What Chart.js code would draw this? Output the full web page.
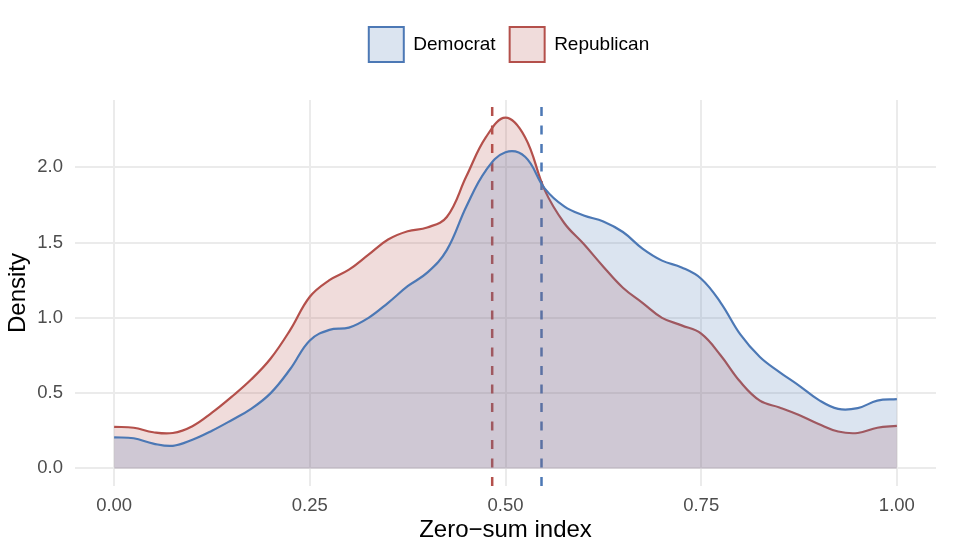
<!DOCTYPE html>
<html>
<head>
<meta charset="utf-8">
<script src="https://cdn.jsdelivr.net/npm/chart.js@4.4.1/dist/chart.umd.min.js"></script>
<style>
  html, body { margin: 0; padding: 0; background: #fff; }
  #wrap { width: 956px; height: 545px; }
</style>
</head>
<body>
<div id="wrap"><canvas id="chart" width="956" height="545"></canvas></div>
<script>
// x grid of the density estimate
const xs = [0, 0.025, 0.05, 0.075, 0.1, 0.125, 0.15, 0.175, 0.2, 0.225,
            0.25, 0.275, 0.3, 0.325, 0.35, 0.375, 0.4, 0.425, 0.45, 0.475,
            0.5, 0.525, 0.55, 0.575, 0.6, 0.625, 0.65, 0.675, 0.7, 0.725,
            0.75, 0.775, 0.8, 0.825, 0.85, 0.875, 0.9, 0.925, 0.95, 0.975, 1.0];

const democrat = [0.206, 0.20, 0.165, 0.15, 0.19, 0.25, 0.32, 0.395, 0.50, 0.66,
                  0.85, 0.92, 0.935, 1.00, 1.10, 1.21, 1.30, 1.45, 1.74, 1.98,
                  2.10, 2.07, 1.86, 1.74, 1.68, 1.64, 1.57, 1.46, 1.38, 1.335,
                  1.26, 1.10, 0.89, 0.74, 0.64, 0.55, 0.455, 0.395, 0.40, 0.45, 0.46];

const republican = [0.276, 0.27, 0.24, 0.235, 0.28, 0.37, 0.475, 0.59, 0.73, 0.92,
                    1.14, 1.25, 1.32, 1.42, 1.52, 1.575, 1.60, 1.67, 1.94, 2.20,
                    2.33, 2.20, 1.85, 1.63, 1.49, 1.34, 1.20, 1.10, 1.00, 0.95,
                    0.895, 0.75, 0.575, 0.45, 0.405, 0.355, 0.295, 0.245, 0.235, 0.27, 0.283];

// group means (dashed lines)
const meanDem = 0.546;
const meanRep = 0.483;

const xTicks = [0, 0.25, 0.5, 0.75, 1.0];
const yTicks = [0, 0.5, 1.0, 1.5, 2.0];

const yMin = -0.117, yMax = 2.447;

const blue = '#4C78B5';
const red = '#B4504B';

const toPts = (vals) => xs.map((x, i) => ({ x: x, y: vals[i] }));

const data = {
    datasets: [
        {
            label: 'Democrat',
            data: toPts(democrat),
            borderColor: blue,
            backgroundColor: 'rgba(76,120,181,0.2)',
            borderWidth: 2.2,
            fill: 'origin',
            pointRadius: 0,
            tension: 0.4,
        },
        {
            label: 'Republican',
            data: toPts(republican),
            borderColor: red,
            backgroundColor: 'rgba(180,80,75,0.2)',
            borderWidth: 2.2,
            fill: 'origin',
            pointRadius: 0,
            tension: 0.4,
        },
        {
            label: 'meanRep',
            data: [{ x: meanRep, y: yMin }, { x: meanRep, y: yMax }],
            borderColor: red,
            borderWidth: 2.5,
            borderDash: [9, 9.5],
            pointRadius: 0,
            fill: false,
        },
        {
            label: 'meanDem',
            data: [{ x: meanDem, y: yMin }, { x: meanDem, y: yMax }],
            borderColor: blue,
            borderWidth: 2.5,
            borderDash: [9, 9.5],
            pointRadius: 0,
            fill: false,
        },
    ],
};

// legend: fixed height, nudged to sit over the panel centre like ggplot
const legendTweak = {
    id: 'legendTweak',
    beforeInit(chart) {
        const fit = chart.legend.fit;
        chart.legend.fit = function () {
            fit.bind(chart.legend)();
            this.height = 87;
        };
    },
    afterLayout(chart) {
        chart.legend.left += 41;
        chart.legend.right += 41;
    },
};

const font = 'Liberation Sans, Arial, Helvetica, sans-serif';

new Chart(document.getElementById('chart'), {
    type: 'line',
    data: data,
    plugins: [legendTweak],
    options: {
        responsive: false,
        animation: false,
        devicePixelRatio: 1,
        layout: { padding: { top: 13, left: 0, right: 20, bottom: 0 } },
        plugins: {
            tooltip: { enabled: false },
            legend: {
                position: 'top',
                labels: {
                    boxWidth: 35,
                    boxHeight: 35,
                    padding: 14,
                    color: '#000',
                    font: { family: font, size: 19 },
                    generateLabels: (chart) => chart.data.datasets.slice(0, 2).map((ds, i) => ({
                        text: ds.label,
                        fillStyle: ds.backgroundColor,
                        strokeStyle: ds.borderColor,
                        lineWidth: 2,
                        datasetIndex: i,
                        hidden: false,
                    })),
                },
            },
        },
        scales: {
            x: {
                type: 'linear',
                min: -0.05,
                max: 1.05,
                afterBuildTicks: (axis) => { axis.ticks = xTicks.map(v => ({ value: v })); },
                afterFit: (axis) => { axis.height = 59; },
                ticks: {
                    padding: 9,
                    color: '#4d4d4d',
                    font: { family: font, size: 18.5 },
                    callback: (v) => v.toFixed(2),
                },
                grid: { color: '#ebebeb', lineWidth: 2, drawTicks: false },
                border: { display: false },
                title: {
                    display: true,
                    text: 'Zero−sum index',
                    color: '#000',
                    font: { family: font, size: 24 },
                    padding: 0,
                },
            },
            y: {
                min: yMin,
                max: yMax,
                afterBuildTicks: (axis) => { axis.ticks = yTicks.map(v => ({ value: v })); },
                afterFit: (axis) => { axis.width = 75; },
                ticks: {
                    padding: 12,
                    color: '#4d4d4d',
                    font: { family: font, size: 18.5 },
                    callback: (v) => v.toFixed(1),
                },
                grid: { color: '#ebebeb', lineWidth: 2, drawTicks: false },
                border: { display: false },
                title: {
                    display: true,
                    text: 'Density',
                    color: '#000',
                    font: { family: font, size: 24 },
                    padding: { top: 4, bottom: 0 },
                },
            },
        },
    },
});
</script>
</body>
</html>
